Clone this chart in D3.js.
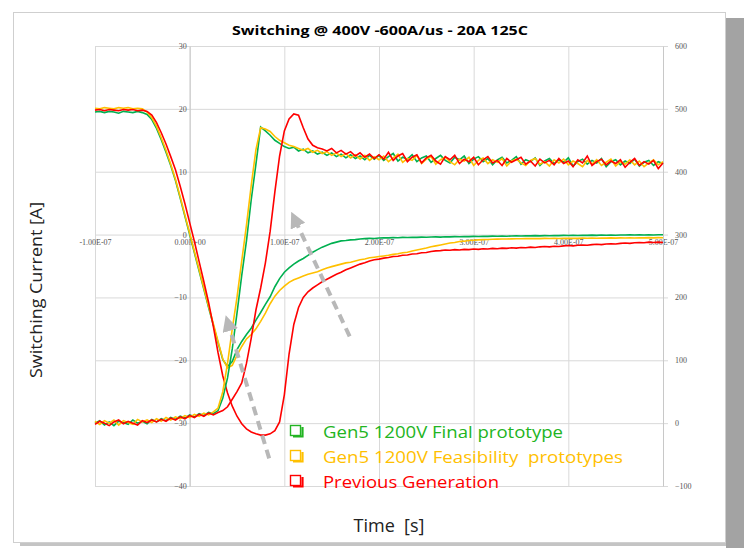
<!DOCTYPE html>
<html>
<head>
<meta charset="utf-8">
<script src="https://cdn.jsdelivr.net/npm/d3@7"></script>
<style>
  body { margin: 0; background: #fff; overflow: hidden; }
  .tick text { font-family: "Liberation Serif", serif; font-size: 8px; fill: #555; }
</style>
</head>
<body>
<script>
// 数据 (时间单位 ns, 每 5ns 一个采样点, -100ns .. 500ns)
var timeNs = d3.range(-100, 501, 5);

var timeTicks = [-100, 0, 100, 200, 300, 400, 500];
var timeLabels = ["-1.00E-07", "0.00E+00", "1.00E-07", "2.00E-07", "3.00E-07", "4.00E-07", "5.00E-07"];
var currentTicks = [-40, -30, -20, -10, 0, 10, 20, 30];
var voltageTicks = [-100, 0, 100, 200, 300, 400, 500, 600];

var seriesNames = ["Gen5 1200V Final prototype", "Gen5 1200V Feasibility  prototypes", "Previous Generation"];
var seriesColors = ["#00b050", "#ffc000", "#ff0000"];
var legendColors = ["#22b422", "#ffc000", "#ff0000"];

// 电流 [A], 左轴
var greenCurrent = [
  19.5, 19.6, 19.4, 19.6, 19.5, 19.3, 19.6, 19.5, 19.4, 19.6,
  19.4, 19.1, 18.3, 16.9, 15.1, 13.1, 11.0, 8.6, 5.8, 2.9,
  0.0, -2.9, -5.8, -8.7, -11.6, -14.4, -17.2, -19.9, -21.0, -20.2,
  -18.3, -17.0, -15.9, -14.9, -13.6, -12.4, -11.1, -9.9, -8.3, -7.0,
  -6.0, -5.3, -4.7, -4.2, -3.8, -3.3, -2.8, -2.4, -2.0, -1.7,
  -1.4, -1.2, -1.0, -0.95, -0.85, -0.8, -0.7, -0.65, -0.6, -0.62,
  -0.55, -0.5, -0.52, -0.48, -0.5, -0.45, -0.47, -0.42, -0.44, -0.4,
  -0.42, -0.38, -0.36, -0.4, -0.34, -0.36, -0.32, -0.35, -0.3, -0.32,
  -0.28, -0.3, -0.26, -0.29, -0.25, -0.27, -0.22, -0.26, -0.22, -0.2,
  -0.23, -0.19, -0.21, -0.17, -0.2, -0.16, -0.18, -0.14, -0.17, -0.13,
  -0.15, -0.12, -0.14, -0.1, -0.13, -0.09, -0.12, -0.08, -0.1, -0.07,
  -0.1, -0.06, -0.08, -0.05, -0.08, -0.04, -0.07, -0.03, -0.06, -0.03,
  -0.04
];
var yellowCurrent = [
  20.1, 20.0, 20.2, 20.1, 20.0, 20.2, 20.1, 20.2, 20.0, 20.1,
  20.0, 19.5, 18.6, 17.2, 15.4, 13.4, 11.2, 8.8, 6.0, 3.1,
  0.2, -2.7, -5.6, -8.5, -11.4, -14.2, -17.0, -19.8, -21.2, -20.8,
  -19.2, -17.8, -16.6, -15.9, -15.0, -13.8, -12.5, -11.0, -9.8, -8.9,
  -8.2, -7.6, -7.2, -6.9, -6.6, -6.3, -6.1, -5.9, -5.6, -5.3,
  -5.1, -4.9, -4.7, -4.5, -4.4, -4.2, -4.0, -3.9, -3.7, -3.6,
  -3.5, -3.4, -3.3, -3.15, -3.05, -2.9, -2.8, -2.6, -2.45, -2.3,
  -2.15, -1.95, -1.8, -1.65, -1.5, -1.35, -1.25, -1.1, -1.05, -0.95,
  -0.9, -0.85, -0.8, -0.78, -0.75, -0.72, -0.7, -0.7, -0.68, -0.66,
  -0.67, -0.64, -0.65, -0.62, -0.64, -0.6, -0.63, -0.6, -0.62, -0.58,
  -0.61, -0.58, -0.6, -0.56, -0.59, -0.55, -0.58, -0.54, -0.57, -0.53,
  -0.56, -0.52, -0.55, -0.51, -0.54, -0.5, -0.53, -0.49, -0.52, -0.48,
  -0.5
];
var redCurrent = [
  19.8, 19.9, 19.7, 19.9, 19.8, 19.7, 19.9, 19.8, 19.9, 19.7,
  19.8, 19.6, 19.0, 17.8, 16.2, 14.4, 12.4, 10.3, 7.7, 4.9,
  1.9, -1.1, -4.3, -7.5, -10.8, -14.6, -18.8, -22.5, -25.2, -27.3,
  -28.9, -30.1, -30.9, -31.4, -31.7, -31.9, -31.9, -31.7, -31.2, -29.8,
  -25.5, -19.0, -14.3, -11.6, -10.0, -9.1, -8.5, -8.0, -7.5, -7.1,
  -6.7, -6.3, -6.0, -5.6, -5.3, -5.0, -4.7, -4.5, -4.2, -4.0,
  -3.9, -3.75, -3.65, -3.5, -3.45, -3.3, -3.25, -3.1, -3.05, -2.9,
  -2.85, -2.7, -2.6, -2.55, -2.45, -2.5, -2.4, -2.45, -2.35, -2.4,
  -2.3, -2.35, -2.25, -2.3, -2.2, -2.25, -2.15, -2.2, -2.1, -2.15,
  -2.05, -2.1, -2.0, -2.05, -1.95, -1.9, -1.95, -1.85, -1.9, -1.8,
  -1.75, -1.8, -1.7, -1.65, -1.7, -1.6, -1.55, -1.6, -1.5, -1.45,
  -1.5, -1.4, -1.35, -1.4, -1.3, -1.25, -1.3, -1.2, -1.25, -1.2,
  -1.25
];

// 电压 [V], 右轴
var greenVoltage = [
  0, 4, -3, 2, -4, 3, 1, -2, 5, 0,
  3, -1, 6, 2, 7, 4, 9, 6, 11, 8,
  13, 10, 15, 12, 17, 15, 20, 40, 72, 118,
  175, 235, 290, 355, 412, 471, 465, 458, 450, 445,
  440, 437, 439, 433, 436, 430, 433, 428, 431, 426,
  430, 424, 428, 422, 427, 421, 425, 419, 426, 420,
  426, 418, 424, 429, 417, 423, 420, 427, 416, 422,
  425, 415, 421, 426, 418, 414, 423, 419, 425, 413,
  420, 424, 416, 421, 411, 419, 423, 414, 418, 424,
  412, 419, 416, 422, 410, 417, 421, 413, 419, 415,
  422, 409, 416, 420, 412, 418, 414, 421, 408, 416,
  419, 411, 417, 413, 420, 409, 415, 418, 410, 416,
  413
];
var yellowVoltage = [
  3, -2, 4, 0, 5, -3, 4, 1, -2, 6,
  2, 5, 1, 7, 3, 9, 5, 10, 7, 12,
  9, 14, 11, 16, 13, 18, 24, 50, 95, 150,
  200, 258, 315, 378, 435, 470, 468, 464, 456, 450,
  446, 442, 440, 437, 434, 437, 431, 434, 429, 432,
  426, 430, 424, 429, 422, 427, 420, 426, 418, 424,
  419, 425, 416, 422, 428, 415, 421, 418, 426, 413,
  420, 424, 412, 419, 423, 416, 411, 420, 417, 423,
  410, 418, 422, 413, 419, 415, 421, 409, 417, 420,
  414, 410, 418, 421, 412, 416, 409, 419, 414, 420,
  411, 417, 413, 408, 418, 412, 419, 410, 415, 420,
  409, 416, 412, 419, 411, 417, 408, 414, 419, 411,
  416
];
var redVoltage = [
  -2, 3, 0, -4, 2, 5, -1, 3, 0, -3,
  4, 1, 5, 2, 6, 3, 8, 5, 10, 7,
  12, 9, 14, 11, 16, 13, 17, 20, 26, 38,
  50, 64, 95, 135, 180, 215, 255, 305, 368, 425,
  465, 484, 492, 490, 470, 452, 442, 438, 436, 433,
  437, 430, 434, 428, 432, 425, 430, 423, 428, 421,
  427, 420, 431, 418, 425, 429, 416, 423, 427, 414,
  422, 426, 417, 412, 424, 419, 426, 413, 420, 416,
  423, 411, 419, 424, 414, 418, 410, 421, 415, 419,
  423, 412, 417, 409, 420, 414, 418, 411, 421, 413,
  417, 408, 419, 414, 425, 410, 416, 420, 411, 417,
  413, 419, 407, 415, 421, 410, 416, 412, 418, 405,
  414
];

var currents = [greenCurrent, yellowCurrent, redCurrent];
var voltages = [greenVoltage, yellowVoltage, redVoltage];

// 灰色箭头 [起点 ns, A, 终点 ns, A]
var arrows = [
  [84, -35.6, 42, -14.8],
  [169, -16.2, 113, 1.8]
];

// 常量定义
var svg_width = 744;
var svg_height = 548;
var plot_left = 95, plot_right = 663, plot_top = 46, plot_bottom = 486;
var grid_color = "#d9d9d9";

var svg = d3.select("body").append("svg")
    .attr("width", svg_width).attr("height", svg_height);

var x = d3.scaleLinear().domain([-100e-9, 500e-9]).range([plot_left, plot_right]);
var yI = d3.scaleLinear().domain([-40, 30]).range([plot_bottom, plot_top]);
var yV = d3.scaleLinear().domain([-100, 600]).range([plot_bottom, plot_top]);

// 背景框和阴影
svg.append("rect").attr("x", 726).attr("y", 18).attr("width", 18).attr("height", 530).attr("fill", "#a3a3a3");
svg.append("rect").attr("x", 20).attr("y", 543).attr("width", 706).attr("height", 3).attr("fill", "#c4c4c4");
svg.append("rect").attr("x", 13.5).attr("y", 12.5).attr("width", 712).attr("height", 530)
    .attr("fill", "#fff").attr("stroke", "#cfcfcf");

// 网格
svg.append("g").selectAll("line").data(currentTicks).enter().append("line")
    .attr("x1", plot_left).attr("x2", plot_right + 5)
    .attr("y1", function(d) { return yI(d) + 0.5; }).attr("y2", function(d) { return yI(d) + 0.5; })
    .attr("stroke", grid_color);
svg.append("g").selectAll("line").data(timeTicks).enter().append("line")
    .attr("x1", function(d) { return x(d * 1e-9) + 0.5; }).attr("x2", function(d) { return x(d * 1e-9) + 0.5; })
    .attr("y1", plot_top).attr("y2", plot_bottom)
    .attr("stroke", grid_color);

// 数轴
var xAxis = svg.append("g").attr("transform", "translate(0," + yI(0) + ")")
    .call(d3.axisBottom(x).tickValues(timeTicks.map(function(d) { return d * 1e-9; }))
        .tickFormat(function(d, i) { return timeLabels[i]; }).tickSize(0).tickPadding(5));
xAxis.select(".domain").remove();

var leftAxis = svg.append("g").attr("transform", "translate(" + x(0) + ",0)")
    .call(d3.axisLeft(yI).tickValues(currentTicks).tickSize(0).tickPadding(3));
leftAxis.select(".domain").attr("stroke", "#c8c8c8");

var rightAxis = svg.append("g").attr("transform", "translate(" + plot_right + ",0)")
    .call(d3.axisRight(yV).tickValues(voltageTicks).tickSize(0).tickPadding(12));
rightAxis.select(".domain").attr("stroke", "#c8c8c8");

// 曲线
var currentLine = d3.line()
    .x(function(d, i) { return x(timeNs[i] * 1e-9); })
    .y(function(d) { return yI(d); });
var voltageLine = d3.line()
    .x(function(d, i) { return x(timeNs[i] * 1e-9); })
    .y(function(d) { return yV(d); });

svg.append("g").selectAll("path").data(currents).enter().append("path")
    .attr("d", currentLine).attr("fill", "none")
    .attr("stroke", function(d, i) { return seriesColors[i]; }).attr("stroke-width", 1.6);
svg.append("g").selectAll("path").data(voltages).enter().append("path")
    .attr("d", voltageLine).attr("fill", "none")
    .attr("stroke", function(d, i) { return seriesColors[i]; }).attr("stroke-width", 1.6);

// 箭头
var defs = svg.append("defs");
defs.append("marker").attr("id", "head").attr("viewBox", "0 0 10 10")
    .attr("refX", 2).attr("refY", 5).attr("markerWidth", 4).attr("markerHeight", 4)
    .attr("orient", "auto").attr("markerUnits", "strokeWidth")
    .append("path").attr("d", "M0,0 L10,5 L0,10 Z").attr("fill", "#b8b8b8");
svg.append("g").selectAll("line").data(arrows).enter().append("line")
    .attr("x1", function(d) { return x(d[0] * 1e-9); }).attr("y1", function(d) { return yI(d[1]); })
    .attr("x2", function(d) { return x(d[2] * 1e-9); }).attr("y2", function(d) { return yI(d[3]); })
    .attr("stroke", "#b8b8b8").attr("stroke-width", 4).attr("stroke-dasharray", "9,6")
    .attr("marker-end", "url(#head)");

// 标题
svg.append("text").attr("x", 380).attr("y", 35).attr("text-anchor", "middle")
    .attr("font-family", "Open Sans").attr("font-weight", "bold").attr("font-size", 13)
    .attr("textLength", 296).attr("lengthAdjust", "spacingAndGlyphs")
    .text("Switching @ 400V -600A/us - 20A 125C");
svg.append("text").attr("transform", "translate(42,290) rotate(-90)").attr("text-anchor", "middle")
    .attr("font-family", "Open Sans").attr("font-size", 16).attr("fill", "#222")
    .attr("textLength", 176).attr("lengthAdjust", "spacingAndGlyphs")
    .text("Switching Current [A]");
svg.append("text").attr("x", 389).attr("y", 532).attr("text-anchor", "middle")
    .attr("font-family", "Open Sans").attr("font-size", 18).attr("fill", "#222")
    .attr("xml:space", "preserve")
    .text("Time  [s]");

// 图例
var legendWidths = [240, 300, 176];
var legend = svg.append("g").selectAll("g").data(seriesNames).enter().append("g")
    .attr("transform", function(d, i) { return "translate(290," + (425 + i * 25) + ")"; });
legend.append("path")
    .attr("d", "M3,11.5 H12.5 V2")
    .attr("fill", "none").attr("stroke-width", 2.2)
    .attr("stroke", function(d, i) { return legendColors[i]; });
legend.append("rect").attr("x", 0.5).attr("y", 0.5).attr("width", 10).attr("height", 10)
    .attr("fill", "none").attr("stroke-width", 1.4)
    .attr("stroke", function(d, i) { return legendColors[i]; });
legend.append("text").attr("x", 33).attr("y", 13)
    .attr("font-family", "Open Sans").attr("font-size", 16)
    .attr("fill", function(d, i) { return legendColors[i]; })
    .attr("textLength", function(d, i) { return legendWidths[i]; }).attr("lengthAdjust", "spacingAndGlyphs")
    .attr("xml:space", "preserve")
    .text(function(d) { return d; });
</script>
</body>
</html>
